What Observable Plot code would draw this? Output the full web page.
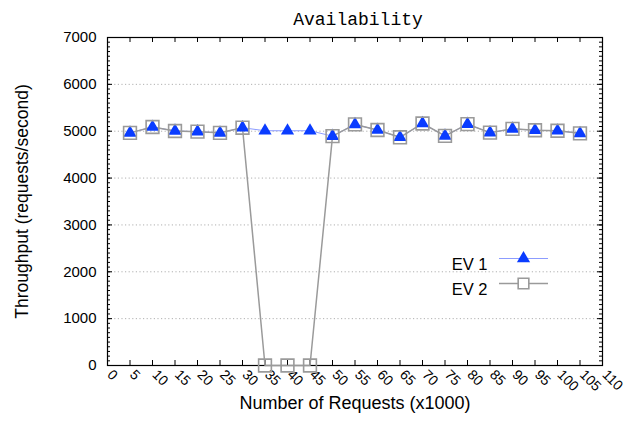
<!DOCTYPE html>
<html>
<head>
<meta charset="utf-8">
<script src="https://cdn.jsdelivr.net/npm/d3@7"></script>
<script src="https://cdn.jsdelivr.net/npm/@observablehq/plot@0.6"></script>
<style>
  html, body { margin: 0; padding: 0; background: #fff; }
  svg { font-family: "Liberation Sans", Arial, sans-serif; }
</style>
</head>
<body>
<div id="chart"></div>
<script>
// ---- data ----
const requests = [5, 10, 15, 20, 25, 30, 35, 40, 45, 50, 55, 60, 65, 70, 75, 80, 85, 90, 95, 100, 105];
const ev1 = [4965, 5090, 5005, 4990, 4965, 5075, 5010, 5010, 5010, 4895, 5145, 5025, 4870, 5165, 4900, 5150, 4970, 5050, 5020, 5010, 4955];
const ev2 = [4965, 5090, 5005, 4990, 4965, 5075, 0, 0, 0, 4895, 5145, 5025, 4870, 5165, 4900, 5150, 4970, 5050, 5020, 5010, 4955];
const xTicks = [0, 5, 10, 15, 20, 25, 30, 35, 40, 45, 50, 55, 60, 65, 70, 75, 80, 85, 90, 95, 100, 105, 110];
const yTicks = [0, 1000, 2000, 3000, 4000, 5000, 6000, 7000];
const yGrid = [1000, 2000, 3000, 4000, 5000, 6000];
const yMinor = d3.range(0, 7001, 100);
const seriesNames = ["EV 1", "EV 2"];

const rows1 = requests.map((x, i) => ({x, y: ev1[i]}));
const rows2 = requests.map((x, i) => ({x, y: ev2[i]}));

// ---- layout ----
const W = 642, H = 438;
const mL = 107, mR = 40, mT = 37, mB = 73;
const fw = W - mL - mR, fh = H - mT - mB;

const blue = "#0a3cff";
const lightBlue = "#8c9cff";
const gray = "#9a9a9a";

const chart = Plot.plot({
  width: W,
  height: H,
  marginLeft: mL, marginRight: mR, marginTop: mT, marginBottom: mB,
  x: {domain: [0, 110], axis: null},
  y: {domain: [0, 7000], axis: null},
  style: {fontFamily: "Liberation Sans, Arial, sans-serif", color: "#000", background: "#fff"},
  marks: [
    // grid
    Plot.ruleY(yGrid, {y: d => d, stroke: "#b0b0b0", strokeDasharray: "1.2,2.4", strokeWidth: 1}),
    // minor y ticks (left, right)
    Plot.ruleY(yMinor, {y: d => d, insetRight: fw - 3, stroke: "#000"}),
    Plot.ruleY(yMinor, {y: d => d, insetLeft: fw - 3, stroke: "#000"}),
    Plot.ruleY(yTicks, {y: d => d, insetRight: fw - 5, stroke: "#000"}),
    Plot.ruleY(yTicks, {y: d => d, insetLeft: fw - 5, stroke: "#000"}),
    // x ticks (bottom, top)
    Plot.ruleX(xTicks, {x: d => d, insetTop: fh - 5, stroke: "#000"}),
    Plot.ruleX(xTicks, {x: d => d, insetBottom: fh - 5, stroke: "#000"}),
    // frame
    Plot.frame({stroke: "#000", strokeWidth: 1.2}),
    // tick labels
    Plot.text(yTicks, {y: d => d, text: d => String(d), frameAnchor: "left", dx: -11, textAnchor: "end", fontSize: 15, fill: "#000"}),
    Plot.text(xTicks, {x: d => d, text: d => String(d), frameAnchor: "bottom", dx: -1, dy: 10, rotate: 45, textAnchor: "start", fontSize: 14, fill: "#000"}),
    // axis labels & title
    Plot.text(["Throughput (requests/second)"], {frameAnchor: "left", dx: -85, rotate: -90, textAnchor: "middle", fontSize: 17.5, fill: "#000"}),
    Plot.text(["Number of Requests (x1000)"], {frameAnchor: "bottom", dy: 43, textAnchor: "middle", fontSize: 18, fill: "#000"}),
    Plot.text(["Availability"], {frameAnchor: "top", dx: 3, dy: -25, fontSize: 18, fontWeight: 500, fontFamily: "Liberation Mono, Courier New, monospace", fill: "#000"}),
    // series lines
    Plot.line(rows1, {x: "x", y: "y", stroke: lightBlue, strokeWidth: 1}),
    Plot.line(rows2, {x: "x", y: "y", stroke: gray, strokeWidth: 1.5}),
    // markers
    Plot.dot(rows1, {x: "x", y: "y", symbol: "triangle", r: 4.9, fill: blue, stroke: "none"}),
    Plot.dot(rows2, {x: "x", y: "y", symbol: "square", r: 7.2, fill: "none", stroke: gray, strokeWidth: 1.6}),
    // legend
    Plot.text([seriesNames[0]], {frameAnchor: "top-right", dx: -115, dy: 221, textAnchor: "end", fontSize: 16.5, fill: "#000"}),
    Plot.text([seriesNames[1]], {frameAnchor: "top-right", dx: -115, dy: 246, textAnchor: "end", fontSize: 16.5, fill: "#000"}),
    Plot.ruleY([0], {y: null, insetLeft: fw - 103, insetRight: 54, dy: 221 - fh / 2, stroke: lightBlue, strokeWidth: 1}),
    Plot.ruleY([0], {y: null, insetLeft: fw - 103, insetRight: 54, dy: 246 - fh / 2, stroke: gray, strokeWidth: 1.5}),
    Plot.dot([0], {x: null, y: null, frameAnchor: "top-right", dx: -79, dy: 221, symbol: "triangle", r: 4.9, fill: blue, stroke: "none"}),
    Plot.dot([0], {x: null, y: null, frameAnchor: "top-right", dx: -79, dy: 246, symbol: "square", r: 6, fill: "#fff", stroke: gray, strokeWidth: 1.6})
  ]
});
document.getElementById("chart").appendChild(chart);
</script>
</body>
</html>
